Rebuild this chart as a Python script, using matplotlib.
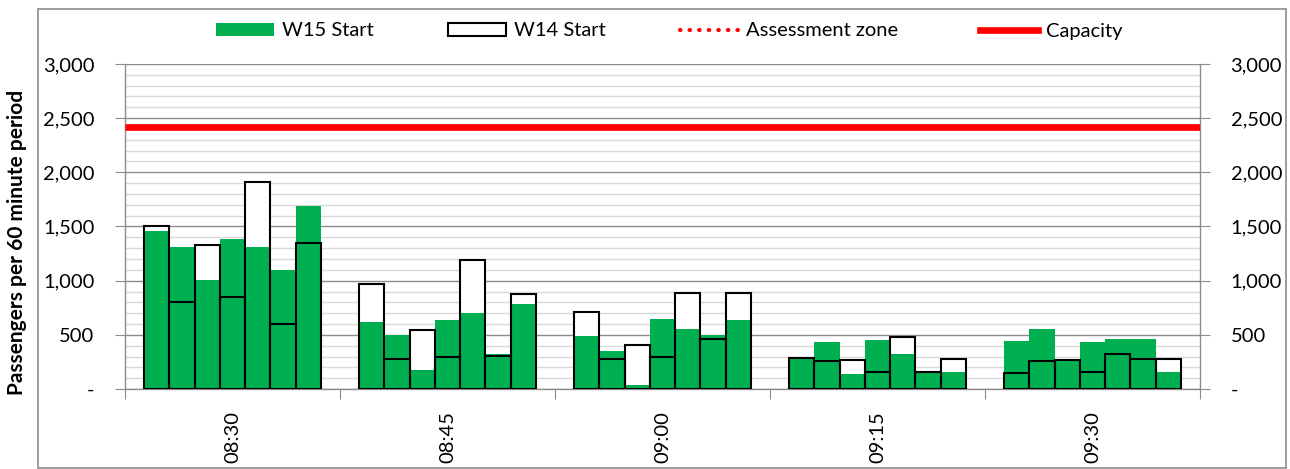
import matplotlib
matplotlib.use("Agg")
import matplotlib.pyplot as plt
import numpy as np
from matplotlib.patches import Patch, Rectangle
from matplotlib.lines import Line2D
from matplotlib.ticker import MultipleLocator, FuncFormatter, FixedLocator

plt.rcParams['font.family'] = ['Lato', 'DejaVu Sans']

categories = ["08:30", "08:45", "09:00", "09:15", "09:30"]
w15_start = [
    [1460, 1310, 1010, 1380, 1310, 1100, 1690],
    [615, 495, 180, 640, 700, 325, 785],
    [485, 350, 35, 645, 550, 495, 635],
    [285, 430, 135, 455, 325, 155, 155],
    [445, 555, 268, 430, 460, 460, 155],
]
w14_start = [
    [1500, 800, 1330, 845, 1910, 600, 1350],
    [970, 280, 545, 295, 1190, 305, 880],
    [710, 280, 410, 300, 890, 465, 885],
    [290, 260, 265, 155, 477, 155, 280],
    [150, 260, 268, 155, 325, 280, 280],
]
capacity = 2420

GREEN = "#00B050"
GRID_MINOR = "#d9d9d9"
GRID_MAJOR = "#8c8c8c"

fig = plt.figure(figsize=(12.9, 4.69), dpi=100)
ax = fig.add_axes([125/1290, 1-389/469, (1200-125)/1290, (389-64)/469])

bw = 0.1176
for c in range(len(categories)):
    xs = c + 0.5 + (np.arange(7) - 3) * bw
    ax.bar(xs, w14_start[c], width=bw, color="white", edgecolor="none", zorder=2)
    ax.bar(xs, w15_start[c], width=bw, color=GREEN, edgecolor="none", zorder=3)
    ax.bar(xs, w14_start[c], width=bw, facecolor="none", edgecolor="black",
           linewidth=1.5, zorder=4)

ax.axhline(capacity, color="#ff0000", lw=4.8, zorder=5, solid_capstyle="butt")

ax.set_xlim(0, len(categories))
ax.set_ylim(0, 3000)
ax.yaxis.set_major_locator(MultipleLocator(500))
ax.yaxis.set_minor_locator(MultipleLocator(100))
ax.yaxis.set_major_formatter(FuncFormatter(lambda v, p: "-" if v == 0 else f"{int(v):,}"))
ax.grid(which="minor", axis="y", color=GRID_MINOR, lw=1.0, zorder=0)
ax.grid(which="major", axis="y", color=GRID_MAJOR, lw=1.0, zorder=1)
ax.set_axisbelow(True)

ax.xaxis.set_major_locator(FixedLocator(range(len(categories) + 1)))
ax.xaxis.set_major_formatter(FuncFormatter(lambda v, p: ""))
ax.xaxis.set_minor_locator(FixedLocator([c + 0.5 for c in range(len(categories))]))
ax.set_xticklabels(categories, minor=True, rotation=90, fontsize=14.5)
ax.tick_params(axis="x", which="major", length=7, color=GRID_MAJOR, direction="out")
ax.tick_params(axis="x", which="minor", length=0, pad=16)
ax.tick_params(axis="y", which="major", length=7, color=GRID_MAJOR, direction="out",
               labelsize=14.5, left=True, right=True, labelleft=True, labelright=True, pad=15)
ax.tick_params(axis="y", which="minor", length=0, left=False, right=False)

for s in ["left", "right", "bottom"]:
    ax.spines[s].set_color(GRID_MAJOR)
    ax.spines[s].set_linewidth(1.0)
ax.spines["top"].set_visible(False)

fig.text(17/1290, 1-242/469, "Passengers per 60 minute period", rotation=90,
         fontsize=15, fontweight="bold", ha="center", va="center")

# legend entries placed individually
fs = 14.5
entries = [
    (Patch(facecolor=GREEN, edgecolor="none"), "W15 Start", 216),
    (Patch(facecolor="white", edgecolor="black", linewidth=1.5), "W14 Start", 448),
    (Line2D([], [], color="#ff0000", lw=3.0, linestyle=(0, (0.1, 2.2)),
            dash_capstyle="round"), "Assessment zone", 680),
    (Line2D([], [], color="#ff0000", lw=4.8), "Capacity", 980),
]
for h, lbl, xpix in entries:
    fig.legend(handles=[h], labels=[lbl], loc="center left",
               bbox_to_anchor=(xpix/1290, 1-31/469), frameon=False, fontsize=fs,
               handlelength=2.9, handleheight=0.6,
               handletextpad=0.4, borderaxespad=0, borderpad=0)

fig.patches.append(Rectangle((38/1290, 1-468/469), (1286-38)/1290, (468-9)/469,
                             transform=fig.transFigure, fill=False,
                             edgecolor=GRID_MAJOR, lw=1.2))

fig.savefig("out.png", dpi=100)
